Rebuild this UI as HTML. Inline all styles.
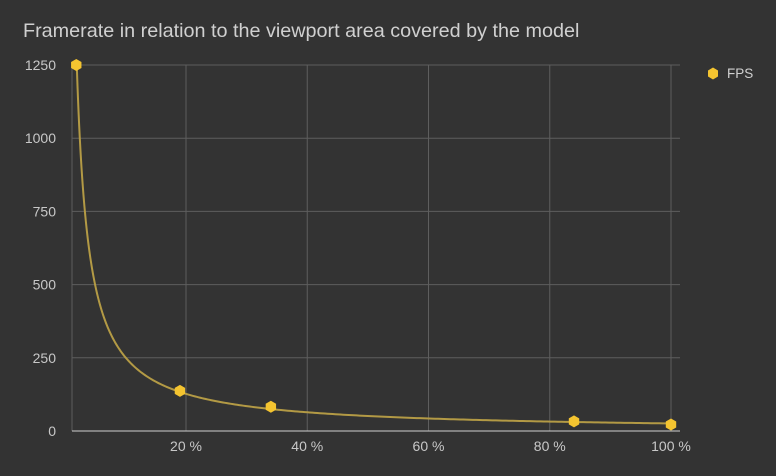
<!DOCTYPE html>
<html><head><meta charset="utf-8"><style>
html,body{margin:0;padding:0;background:#333333;}
svg{display:block;font-family:"Liberation Sans",sans-serif;}
</style></head><body>
<svg id="chart" width="776" height="476" viewBox="0 0 776 476" xmlns="http://www.w3.org/2000/svg">
<rect x="0" y="0" width="776" height="476" fill="#333333"/>
<text x="23" y="37" font-size="19.8" fill="#d0d0d0">Framerate in relation to the viewport area covered by the model</text>
<g id="grid"></g>
<g id="axes"></g>
<g id="series"></g>
<g>
<polygon points="713,67.5 718,70.5 718,76.5 713,79.5 708,76.5 708,70.5" fill="#f4c430"/>
<text x="727" y="78" font-size="13.5" fill="#d0d0d0">FPS</text>
</g>
</svg>
<script>
const xValues = [1.9, 19, 34, 84, 100];
const fpsValues = [1250, 137, 83, 33, 22];
const yTicks = [0, 250, 500, 750, 1000, 1250];
const xTicks = [20, 40, 60, 80, 100];
const xTickLabels = ["20 %", "40 %", "60 %", "80 %", "100 %"];

const NS = "http://www.w3.org/2000/svg";
const L = 72, R = 680, T = 65, B = 431;
const yMax = 1250;
const xs = v => 64.75 + v * (671 - 64.75) / 100;
const ys = v => B - v * (B - T) / yMax;
function mk(tag, attrs, parent){const e=document.createElementNS(NS,tag);for(const k in attrs)e.setAttribute(k,attrs[k]);parent.appendChild(e);return e;}
const grid=document.getElementById('grid'), axes=document.getElementById('axes'), series=document.getElementById('series');

yTicks.forEach(t=>{
  const y=ys(t);
  if(t>0){const g=mk('line',{x1:L,x2:R,y1:y,y2:y,stroke:'#5e5e5e','stroke-width':1},grid);
  
  }
  const tx=mk('text',{x:56,y:y+5,'font-size':14,fill:'#c8c8c8','text-anchor':'end'},axes);
  tx.textContent=t;
  
  
});
const lg=mk('line',{x1:L,x2:L,y1:T,y2:B,stroke:'#5e5e5e','stroke-width':1},grid);


xTicks.forEach((t,i)=>{
  const x=xs(t);
  const g=mk('line',{x1:x,x2:x,y1:T,y2:B,stroke:'#5e5e5e','stroke-width':1},grid);
  
  
  const tx=mk('text',{x:x,y:451,'font-size':14,fill:'#c8c8c8','text-anchor':'middle'},axes);
  tx.textContent=xTickLabels[i];
  
  
});
const base=mk('line',{x1:L,x2:R,y1:B,y2:B,stroke:'#cfcfcf','stroke-width':1},axes);



let n=xValues.length,sx=0,sy=0,sxx=0,sxy=0;
xValues.forEach((x,i)=>{const a=Math.log(x),b=Math.log(fpsValues[i]);sx+=a;sy+=b;sxx+=a*a;sxy+=a*b;});
const bExp=(n*sxy-sx*sy)/(n*sxx-sx*sx), aCoef=Math.exp((sy-bExp*sx)/n);
let d='';
for(let k=0;k<=300;k++){
  const x=xValues[0]+(xValues[n-1]-xValues[0])*Math.pow(k/300,2);
  const y=Math.min(aCoef*Math.pow(x,bExp),yMax);
  d+=(k?'L':'M')+xs(x).toFixed(2)+','+ys(y).toFixed(2);
}
const tl=mk('path',{d:d,fill:'none',stroke:'#b39a45','stroke-width':2},series);



xValues.forEach((x,i)=>{
  const cx=xs(x), cy=ys(fpsValues[i]), r=6;
  let pts=[];
  for(let k=0;k<6;k++){const a=Math.PI/180*(60*k-90);pts.push((cx+r*Math.cos(a)).toFixed(2)+','+(cy+r*Math.sin(a)).toFixed(2));}
  const p=mk('polygon',{points:pts.join(' '),fill:'#f4c430'},series);
  
  
});
</script>
</body></html>
